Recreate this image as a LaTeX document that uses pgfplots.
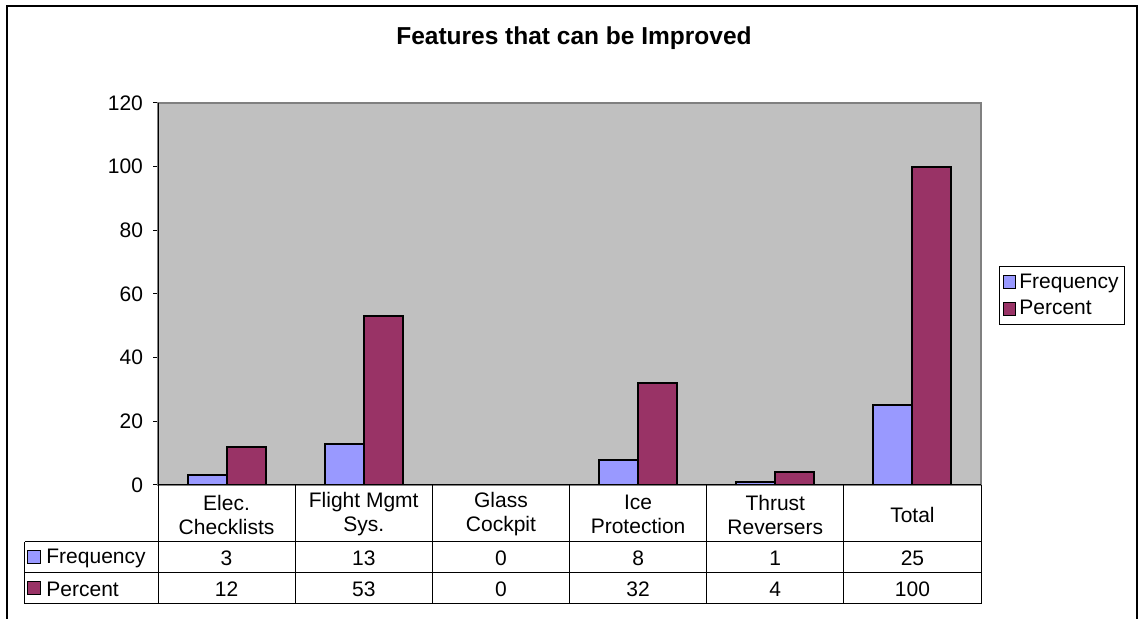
\documentclass[border=0pt]{standalone}
\usepackage{pgfplots}
\pgfplotsset{compat=1.18}
\usepackage{pgfplotstable}
\usepackage{fontspec}
\setmainfont{Liberation Sans}

\definecolor{freqcol}{HTML}{9999FF}
\definecolor{pctcol}{HTML}{993366}
\definecolor{plotbg}{HTML}{C0C0C0}
\definecolor{plotedge}{HTML}{808080}

% responses per feature: count and share of all responses
\pgfplotstableread{
x   freq pct
0.5 3    12
1.5 13   53
2.5 0    0
3.5 8    32
4.5 1    4
5.5 25   100
}\features

\newcommand{\bodyfont}{\fontsize{10.5}{12}\selectfont}
\def\colw{68.5833}

\begin{document}
\begin{tikzpicture}[x=1pt,y=1pt]
% page extent and chart frame
\useasboundingbox (-79,242.5) rectangle (490,-67);
\draw[black, line width=0.9pt] (-75.5,239.5) rectangle (489.5,-68.5);

\node[anchor=base, font=\fontsize{12.25}{14}\selectfont\bfseries] at (208,220) {Features that can be Improved};

\begin{axis}[
  at={(0,0)}, anchor=south west,
  scale only axis, width=411.5pt, height=191pt,
  xmin=0, xmax=6, ymin=0, ymax=120,
  axis background/.style={fill=plotbg},
  axis line style={plotedge, line width=0.8pt},
  xtick=\empty,
  ytick={0,20,...,120},
  ytick pos=left,
  tick align=outside, major tick length=2.5pt,
  ytick style={black, line width=0.5pt},
  yticklabel style={font=\bodyfont, xshift=-1.5pt},
  /pgf/number format/assume math mode=true,
  ybar, bar width=0.284,
  legend cell align=left,
  legend style={at={(1.0219,0.573)}, anchor=north west,
    draw=black, line width=0.5pt, fill=white,
    font=\bodyfont, inner xsep=1.5pt, inner ysep=2.5pt,
    row sep=2.5pt,
    nodes={inner xsep=1.5pt, inner ysep=1pt}},
  legend image code/.code={\draw[#1,/tikz/.cd,draw=black,line width=0.5pt] (0pt,-3.2pt) rectangle (6.4pt,3.2pt);},
]
\addplot[bar shift=-0.142, fill=freqcol, draw=black, line width=1pt] table[x=x,y=freq]{\features};
\addplot[bar shift=0.142, fill=pctcol, draw=black, line width=1pt] table[x=x,y=pct]{\features};
\legend{Frequency,Percent}
\draw[black, line width=0.6pt] (rel axis cs:0,1) -- (rel axis cs:0,0) -- (rel axis cs:1,0);
\end{axis}

% data table below the plot
\draw[black, line width=0.5pt] (-66.5,-28.5) -- (411.5,-28.5);
\draw[black, line width=0.5pt] (-66.5,-44) -- (411.5,-44);
\draw[black, line width=0.5pt] (-66.5,-59.5) -- (411.5,-59.5);
\draw[black, line width=0.5pt] (-66.5,-28.5) -- (-66.5,-59.5);
\foreach \i in {0,...,6} \draw[black, line width=0.5pt] (\i*\colw,0) -- (\i*\colw,-59.5);

\foreach \lab [count=\i from 0] in {{Elec.\\Checklists},{Flight Mgmt\\Sys.},{Glass\\Cockpit},{Ice\\Protection},{Thrust\\Reversers},{Total}}
  \node[align=center, font=\bodyfont, inner sep=0pt] at ({(\i+0.5)*\colw},-14.75) {\lab};

\foreach \i in {0,...,5} {
  \pgfplotstablegetelem{\i}{freq}\of\features
  \node[font=\bodyfont, inner sep=0pt] at ({(\i+0.5)*\colw},-36.5) {\pgfplotsretval};
  \pgfplotstablegetelem{\i}{pct}\of\features
  \node[font=\bodyfont, inner sep=0pt] at ({(\i+0.5)*\colw},-52) {\pgfplotsretval};
}

% row headers with series keys
\draw[black, line width=0.5pt, fill=freqcol] (-65,-39.5) rectangle (-58.5,-33);
\node[anchor=west, font=\bodyfont, inner sep=0pt] at (-56,-36.5) {Frequency};
\draw[black, line width=0.5pt, fill=pctcol] (-65,-55) rectangle (-58.5,-48.5);
\node[anchor=west, font=\bodyfont, inner sep=0pt] at (-56,-52) {Percent};
\end{tikzpicture}
\end{document}
